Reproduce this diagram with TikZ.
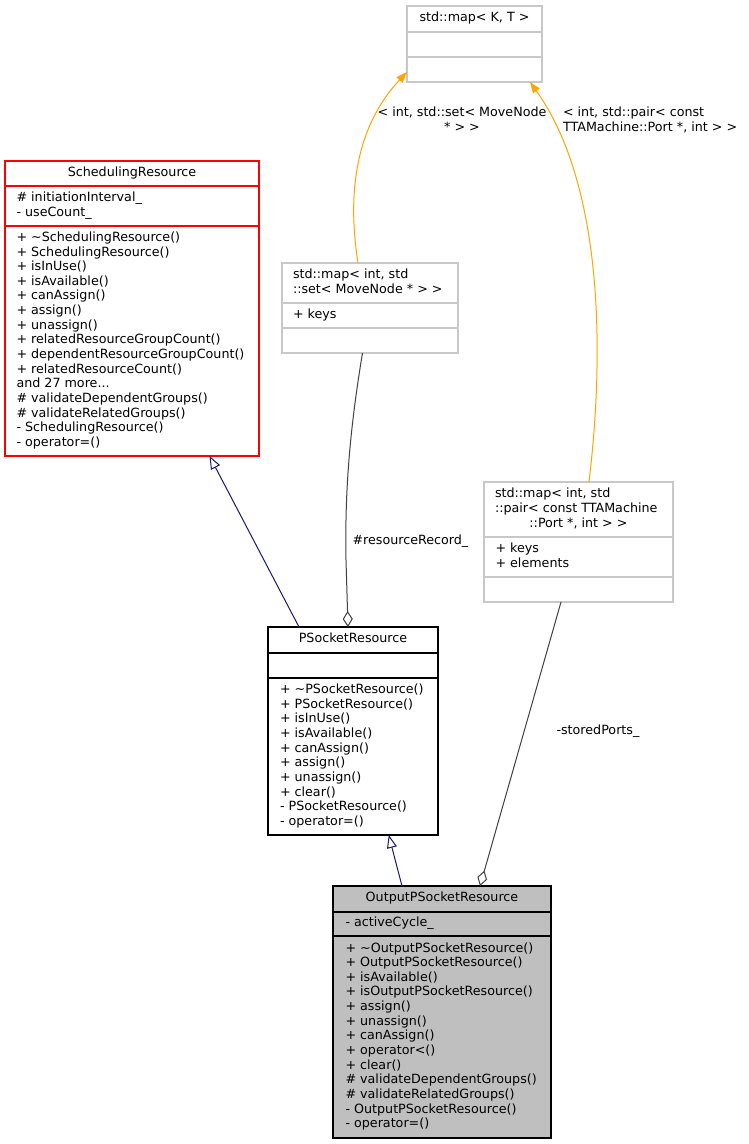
\documentclass[tikz,border=0pt]{standalone}
\usepackage{fontspec}
\setmainfont{DejaVu Sans}
\usetikzlibrary{arrows.meta}
\definecolor{grey75}{HTML}{BFBFBF}
\definecolor{mapgray}{HTML}{C8C8C8}
\definecolor{inhnavy}{HTML}{191970}
\definecolor{agggray}{HTML}{404040}
\definecolor{tmplorange}{HTML}{FFA500}
\begin{document}
\begin{tikzpicture}[x=1pt,y=-1pt,
  every node/.style={font=\fontsize{12.7}{14.65}\selectfont, inner sep=0pt, outer sep=0pt},
  box/.style={draw, rectangle, line width=1.2pt},
  txt/.style={align=left, anchor=west},
  sep/.style={line width=1.2pt},
  inh/.style={draw=inhnavy, line width=1pt, -{Triangle[length=13pt,width=10pt,fill=white]}},
  agg/.style={draw=agggray, line width=1pt, -{Diamond[length=16pt,width=10pt,fill=white]}},
  tmpl/.style={draw=tmplorange, line width=1pt, -{Triangle[length=11pt,width=8pt,fill=tmplorange]}},
  lbl/.style={align=left, anchor=west}
]
\useasboundingbox (0,0) rectangle (749,1144);
\fill[white] (0,0) rectangle (749,1144);

% std::map< K, T >
\node[box, draw=mapgray, minimum width=135pt, minimum height=76pt] (mapkt) at (474.5,44) {};
\draw[sep, mapgray] (407,32) -- (542,32) (407,57) -- (542,57);
\node (mapktT) at (474.5,19) {\strut std::map< K, T >};

% SchedulingResource
\node[box, draw=red, minimum width=254pt, minimum height=295pt] (sched) at (132,308.5) {};
\draw[sep, red] (5,186) -- (259,186) (5,226) -- (259,226);
\node (schedT) at (132,173.5) {\strut SchedulingResource};
\node[txt] (schedA) at (16.5,206) {\strut\# initiationInterval\_\\\strut- useCount\_};
\node[txt] (schedM) at (16.5,341) {\strut+ \textasciitilde SchedulingResource()\\
\strut+ SchedulingResource()\\
\strut+ isInUse()\\
\strut+ isAvailable()\\
\strut+ canAssign()\\
\strut+ assign()\\
\strut+ unassign()\\
\strut+ relatedResourceGroupCount()\\
\strut+ dependentResourceGroupCount()\\
\strut+ relatedResourceCount()\\
\strut and 27 more...\\
\strut\# validateDependentGroups()\\
\strut\# validateRelatedGroups()\\
\strut- SchedulingResource()\\
\strut- operator=()};

% std::map< int, std::set< MoveNode * > >
\node[box, draw=mapgray, minimum width=176pt, minimum height=90pt] (mapset) at (370,308) {};
\draw[sep, mapgray] (282,303) -- (458,303) (282,328) -- (458,328);
\node[txt] (mapsetT) at (293,283) {\strut std::map< int, std\\\strut::set< MoveNode * > >};
\node[txt] (mapsetA) at (293,315.5) {\strut+ keys};

% std::map< int, std::pair< const TTAMachine::Port *, int > >
\node[box, draw=mapgray, minimum width=189pt, minimum height=120pt] (mappair) at (578.5,542) {};
\draw[sep, mapgray] (484,537) -- (673,537) (484,577) -- (673,577);
\node[txt] (mappairT) at (495,502.2) {\strut std::map< int, std\\\strut::pair< const TTAMachine};
\node (mappairT3) at (578.5,524.15) {\strut::Port *, int > >};
\node[txt] (mappairA) at (495.5,557) {\strut+ keys\\\strut+ elements};

% PSocketResource
\node[box, draw=black, minimum width=170pt, minimum height=208pt] (psock) at (353,731) {};
\draw[sep, black] (268,653) -- (438,653) (268,678) -- (438,678);
\node (psockT) at (353,640) {\strut PSocketResource};
\node[txt] (psockM) at (280,756.5) {\strut+ \textasciitilde PSocketResource()\\
\strut+ PSocketResource()\\
\strut+ isInUse()\\
\strut+ isAvailable()\\
\strut+ canAssign()\\
\strut+ assign()\\
\strut+ unassign()\\
\strut+ clear()\\
\strut- PSocketResource()\\
\strut- operator=()};

% OutputPSocketResource
\node[box, draw=black, fill=grey75, minimum width=218pt, minimum height=252pt] (output) at (442,1012) {};
\draw[sep, black] (333,912) -- (551,912) (333,936) -- (551,936);
\node (outputT) at (442,899) {\strut OutputPSocketResource};
\node[txt] (outputA) at (345.5,924) {\strut- activeCycle\_};
\node[txt] (outputM) at (345.5,1037) {\strut+ \textasciitilde OutputPSocketResource()\\
\strut+ OutputPSocketResource()\\
\strut+ isAvailable()\\
\strut+ isOutputPSocketResource()\\
\strut+ assign()\\
\strut+ unassign()\\
\strut+ canAssign()\\
\strut+ operator<()\\
\strut+ clear()\\
\strut\# validateDependentGroups()\\
\strut\# validateRelatedGroups()\\
\strut- OutputPSocketResource()\\
\strut- operator=()};

% edges
\draw[inh] ([xshift=31pt]psock.north west) -- ([xshift=204.5pt]sched.south west);
\draw[inh] ([xshift=69pt]output.north west) -- ([xshift=120.7pt]psock.south west);
\draw[agg] ([xshift=80.5pt]mapset.south west) .. controls (348,440) and (345,500) .. (346,560) -- ([xshift=80pt]psock.north west);
\draw[agg] ([xshift=77pt]mappair.south west) -- ([xshift=147pt]output.north west);
\draw[tmpl] ([xshift=76pt]mapset.north west) .. controls (345,180) and (362,120) .. ([yshift=10pt]mapkt.south west);
\draw[tmpl] ([xshift=105pt]mappair.north west) .. controls (606,340) and (600,180) .. ([xshift=123pt]mapkt.south west);

% labels
\node[align=center] (l1) at (462,121) {\strut< int, std::set< MoveNode\\\strut* > >};
\node[lbl] (l2) at (563,121) {\strut< int, std::pair< const\\\strut TTAMachine::Port *, int > >};
\node[lbl] (l3) at (352.5,541.5) {\strut\#resourceRecord\_};
\node[lbl] (l4) at (556.5,731.5) {\strut-storedPorts\_};
\end{tikzpicture}
\end{document}
